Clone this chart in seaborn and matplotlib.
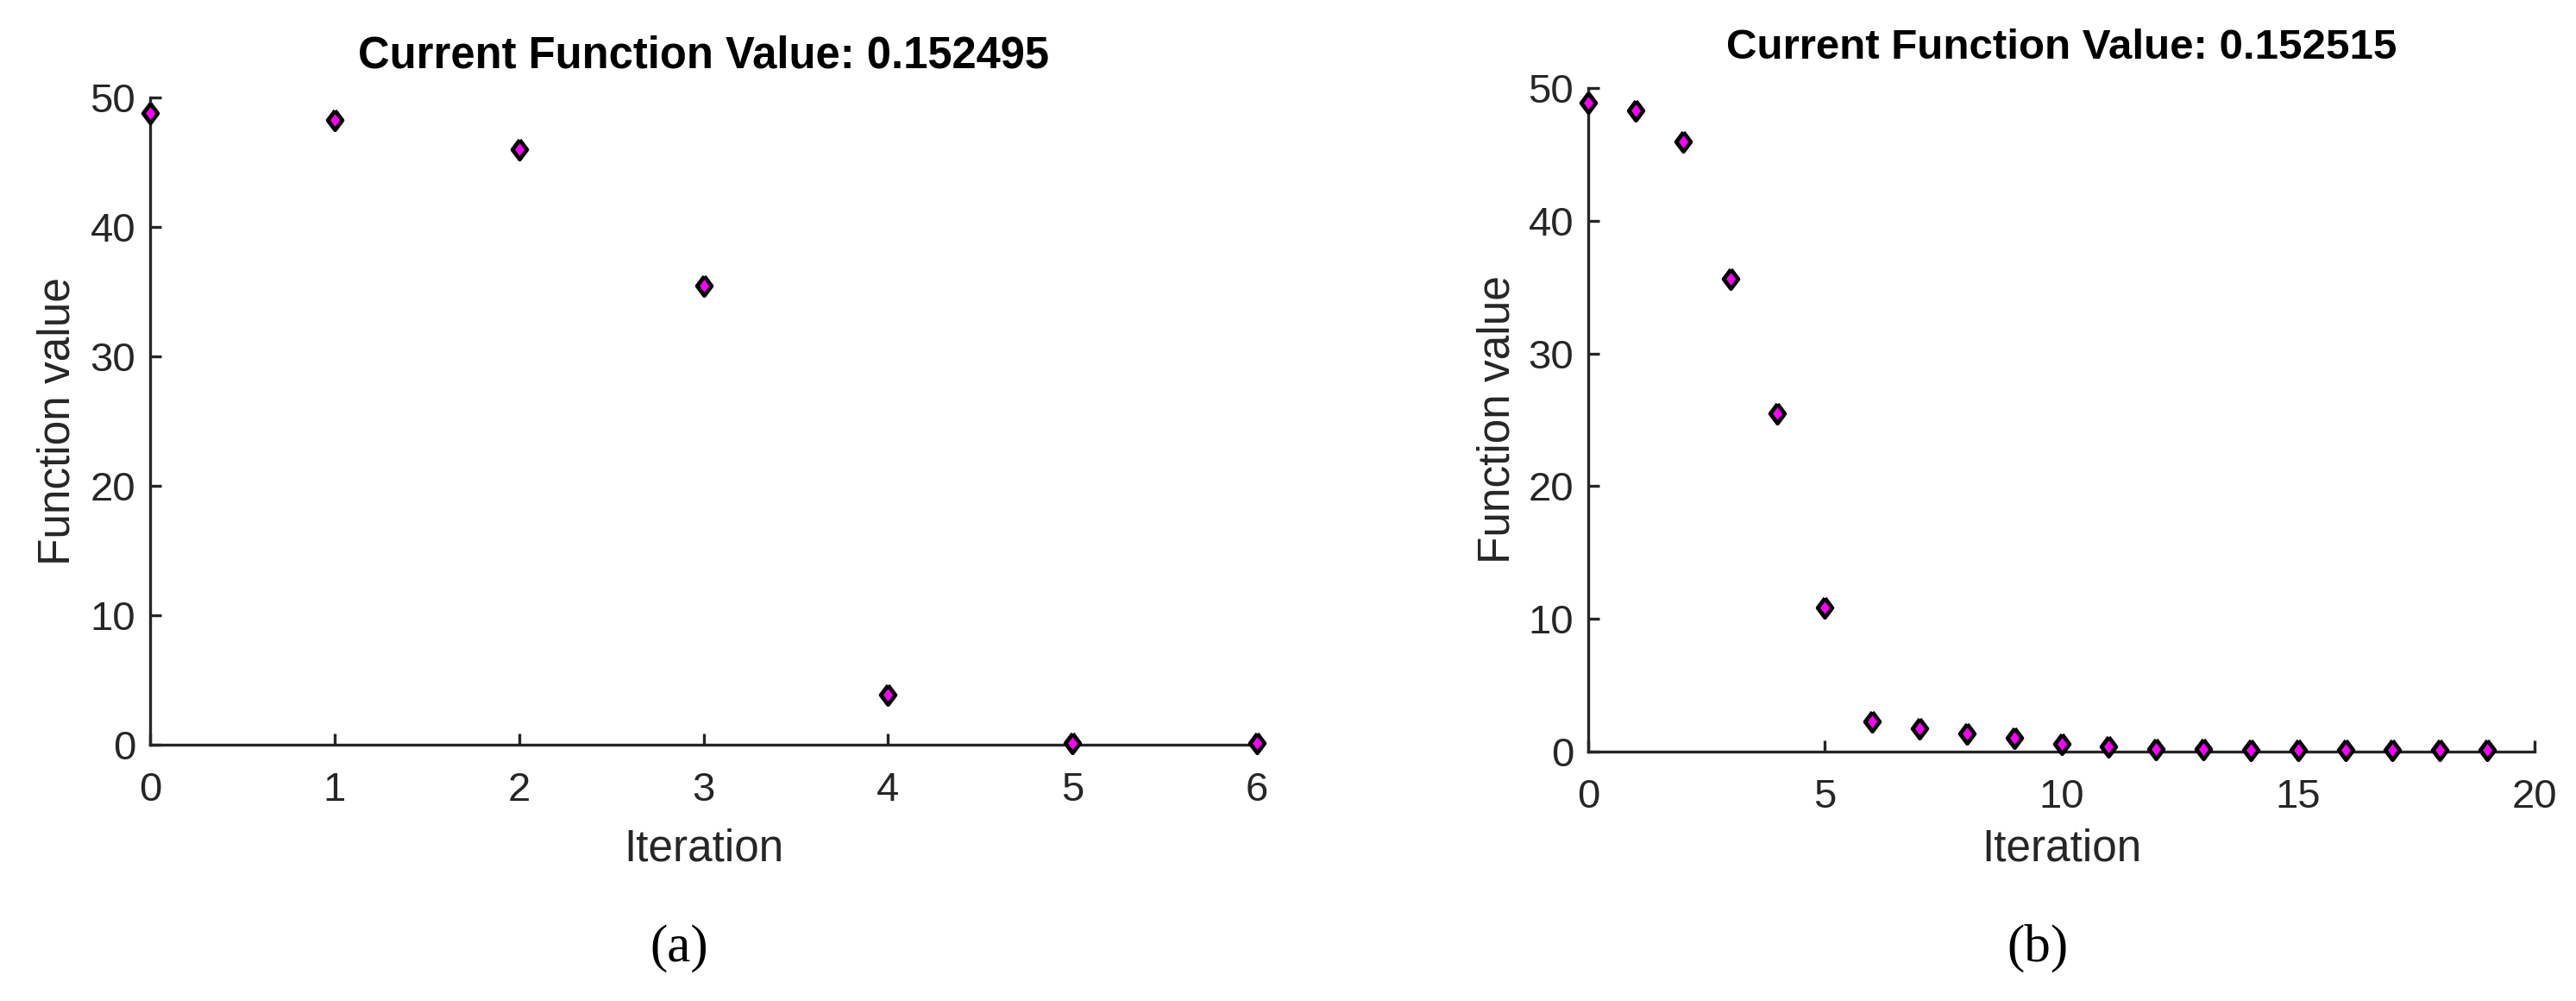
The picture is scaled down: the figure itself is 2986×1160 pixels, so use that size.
import numpy as np
import pandas as pd
import seaborn as sns
import matplotlib
matplotlib.use('Agg')
import matplotlib.pyplot as plt

# Data
iter_a = [0, 1, 2, 3, 4, 5, 6]
fval_a = [48.8, 48.3, 46.0, 35.5, 3.9, 0.16, 0.15]
title_a = 'Current Function Value: 0.152495'

iter_b = list(range(20))
fval_b = [48.9, 48.3, 46.0, 35.6, 25.5, 10.85, 2.3, 1.78, 1.34, 1.02,
          0.58, 0.37, 0.2, 0.17, 0.16, 0.16, 0.15, 0.15, 0.15, 0.15]
title_b = 'Current Function Value: 0.152515'

xticks_a = [0, 1, 2, 3, 4, 5, 6]
xticks_b = [0, 5, 10, 15, 20]
yticks = [0, 10, 20, 30, 40, 50]

sns.set_style('ticks')
plt.rcParams['font.family'] = ['Liberation Sans', 'DejaVu Sans']

dark = '#262626'
# MATLAB-ish diamond, a bit wider than matplotlib's thin 'd'
diamond = [(0, 1), (0.75, 0), (0, -1), (-0.75, 0), (0, 1)]

fig = plt.figure(figsize=(29.86, 11.6), dpi=100)
ax_a = fig.add_axes([174 / 2986, (1160 - 863) / 1160, 1283 / 2986, 750 / 1160])
ax_b = fig.add_axes([1841 / 2986, (1160 - 871) / 1160, 1097 / 2986, 769 / 1160])


def draw_panel(ax, x, y, title, xticks, xmax, title_size, title_y, ylab_x, xlab_y):
    df = pd.DataFrame({'Iteration': x, 'Function value': y})
    sns.scatterplot(data=df, x='Iteration', y='Function value', ax=ax,
                    marker=diamond, s=260, color='#ff00ff', edgecolor='black',
                    linewidth=3.4, clip_on=False, zorder=5)
    ax.set_xlim(0, xmax)
    ax.set_ylim(0, 50)
    ax.set_xticks(xticks)
    ax.set_yticks(yticks)
    sns.despine(ax=ax)
    for side in ['left', 'bottom']:
        ax.spines[side].set_linewidth(2.4)
        ax.spines[side].set_color(dark)
    ax.tick_params(axis='both', direction='in', length=9.5, width=2.4,
                   color=dark, labelcolor=dark, labelsize=34)
    ax.tick_params(axis='x', pad=22)
    ax.tick_params(axis='y', pad=12)
    ax.set_xlabel('Iteration', fontsize=37, color=dark, va='center')
    ax.set_ylabel('Function value', fontsize=37, color=dark, va='center')
    ax.xaxis.set_label_coords(0.5, xlab_y)
    ax.yaxis.set_label_coords(ylab_x, 0.5)
    ax.set_title(title, fontsize=title_size, fontweight='bold', color='black',
                 y=title_y, va='center')


draw_panel(ax_a, iter_a, fval_a, title_a, xticks_a, 6, 36.5, 1.053, -0.0834, -0.161)
draw_panel(ax_b, iter_b, fval_b, title_b, xticks_b, 20, 35.5, 1.049, -0.0957, -0.147)

fig.text(787 / 2986, 1 - 1099 / 1160, '(a)', fontsize=44, family='Liberation Serif',
         ha='center', va='center', color='black')
fig.text(2362 / 2986, 1 - 1099 / 1160, '(b)', fontsize=44, family='Liberation Serif',
         ha='center', va='center', color='black')

fig.savefig('out.png', dpi=100)
